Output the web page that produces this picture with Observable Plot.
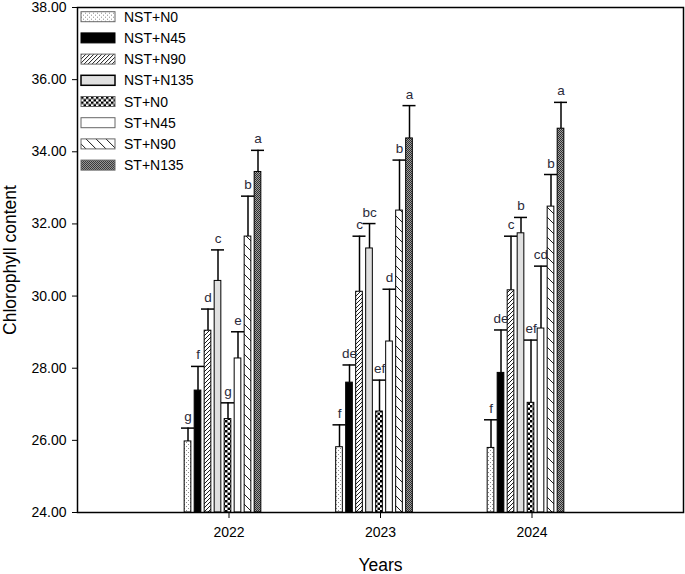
<!DOCTYPE html>
<html><head><meta charset="utf-8">
<script src="https://cdn.jsdelivr.net/npm/d3@7"></script>
<script src="https://cdn.jsdelivr.net/npm/@observablehq/plot@0.6"></script>
<style>
body{margin:0;background:#fff;font-family:"Liberation Sans",Arial,sans-serif}
#wrap{position:relative;width:685px;height:574px;overflow:hidden}
#wrap svg [aria-label="y-axis label"], #wrap svg [aria-label="x-axis label"]{font-size:17.5px}
</style></head><body><div id="wrap"></div>
<script>
// ---- data ----
const years = [2022, 2023, 2024];
const treatments = ["NST+N0","NST+N45","NST+N90","NST+N135","ST+N0","ST+N45","ST+N90","ST+N135"];
const yTicks = [24, 26, 28, 30, 32, 34, 36, 38];

const mean2022 = [25.97, 27.38, 29.04, 30.42, 26.59, 28.27, 31.65, 33.44];
const err2022  = [0.37, 0.67, 0.60, 0.86, 0.45, 0.74, 1.12, 0.60];
const letters2022 = ["g","f","d","c","g","e","b","a"];

const mean2023 = [25.81, 27.60, 30.12, 31.32, 26.80, 28.74, 32.37, 34.37];
const err2023  = [0.62, 0.49, 1.54, 0.69, 0.87, 1.45, 1.40, 0.91];
const letters2023 = ["f","de","c","bc","ef","d","b","a"];

const mean2024 = [25.79, 27.87, 30.16, 31.74, 27.04, 29.10, 32.48, 34.64];
const err2024  = [0.78, 1.19, 1.50, 0.44, 1.74, 1.73, 0.89, 0.73];
const letters2024 = ["f","de","c","b","ef","cd","b","a"];

const means = [mean2022, mean2023, mean2024];
const errs = [err2022, err2023, err2024];
const letters = [letters2022, letters2023, letters2024];

// ---- layout helpers ----
const step = 0.066, barW = 0.044, capHalf = 0.043;
const patternIds = ["p0","p1","p2","p3","p4","p5","p6","p7"];
const fills = patternIds.map(id => `url(#${id})`);

const rows = [];
years.forEach((yr, k) => treatments.forEach((t, i) => rows.push({
  year: yr, treatment: t, i, mean: means[k][i], err: errs[k][i], letter: letters[k][i],
  xc: yr + (i - 4.1) * step
})));

const wrap = document.getElementById("wrap");

// ---- patterns ----
const defsSvg = d3.select(wrap).append("svg").attr("width", 0).attr("height", 0)
  .style("position", "absolute").style("left", 0).style("top", 0);
const defs = defsSvg.append("defs");
function pat(id, w, h, draw) {
  const p = defs.append("pattern").attr("id", id).attr("patternUnits", "userSpaceOnUse")
    .attr("width", w).attr("height", h);
  draw(p, w, h);
}
pat("p0", 4, 4, p => {
  p.append("rect").attr("width", 4).attr("height", 4).attr("fill", "#fff");
  p.append("rect").attr("x", 0).attr("y", 0).attr("width", 1).attr("height", 1).attr("fill", "#8a8a8a");
  p.append("rect").attr("x", 2).attr("y", 2).attr("width", 1).attr("height", 1).attr("fill", "#8a8a8a");
});
pat("p1", 4, 4, p => p.append("rect").attr("width", 4).attr("height", 4).attr("fill", "#000"));
pat("p2", 4, 4, p => {
  p.append("rect").attr("width", 4).attr("height", 4).attr("fill", "#fff");
  p.append("path").attr("d", "M0,4L4,0M-1,1L1,-1M3,5L5,3").attr("stroke", "#000").attr("stroke-width", 0.9);
});
pat("p3", 4, 4, p => p.append("rect").attr("width", 4).attr("height", 4).attr("fill", "#e0e0e0"));
pat("p4", 5, 5, p => {
  p.append("rect").attr("width", 5).attr("height", 5).attr("fill", "#fff");
  p.append("rect").attr("width", 2.5).attr("height", 2.5).attr("fill", "#000");
  p.append("rect").attr("x", 2.5).attr("y", 2.5).attr("width", 2.5).attr("height", 2.5).attr("fill", "#000");
});
pat("p5", 4, 4, p => p.append("rect").attr("width", 4).attr("height", 4).attr("fill", "#fff"));
pat("p6", 10, 10, p => {
  p.append("rect").attr("width", 10).attr("height", 10).attr("fill", "#fff");
  p.append("path").attr("d", "M0,0L10,10M-1,9L1,11M9,-1L11,1").attr("stroke", "#000").attr("stroke-width", 0.9);
});
pat("p7", 2, 2, p => {
  p.append("rect").attr("width", 2).attr("height", 2).attr("fill", "#a0a0a0");
  p.append("rect").attr("width", 1).attr("height", 1).attr("fill", "#2e2e2e");
  p.append("rect").attr("x", 1).attr("y", 1).attr("width", 1).attr("height", 1).attr("fill", "#2e2e2e");
});

// ---- chart ----
const chart = Plot.plot({
  width: 685, height: 574,
  marginLeft: 77, marginRight: 2, marginTop: 7, marginBottom: 62,
  style: {fontFamily: "'Liberation Sans', Arial, sans-serif", fontSize: "14px", color: "#000", background: "#fff"},
  x: {domain: [2021, 2025], ticks: years, tickFormat: d => String(d), label: "Years",
      labelAnchor: "center", labelArrow: "none", tickSize: 6, tickPadding: 9, labelOffset: 58},
  y: {domain: [24, 38], ticks: yTicks, tickFormat: d => d.toFixed(2), label: "Chlorophyll content",
      labelAnchor: "center", labelArrow: "none", tickSize: 5, tickPadding: 6, labelOffset: 74},
  color: {type: "identity"},
  marks: [
    Plot.rectY(rows, {x1: d => d.xc - barW / 2, x2: d => d.xc + barW / 2, y1: 24, y2: "mean",
      fill: d => fills[d.i], stroke: "#000", strokeWidth: 1}),
    Plot.ruleX(rows, {x: "xc", y1: "mean", y2: d => d.mean + d.err, stroke: "#000", strokeWidth: 1.5}),
    Plot.ruleY(rows, {y: d => d.mean + d.err, x1: d => d.xc - capHalf, x2: d => d.xc + capHalf,
      stroke: "#000", strokeWidth: 1.5}),
    Plot.text(rows, {x: "xc", y: d => d.mean + d.err, text: "letter", lineAnchor: "bottom", dy: -7,
      fill: "#2a2a3a", fontSize: 13.5}),
    Plot.frame({stroke: "#000", strokeWidth: 1.5})
  ]
});
chart.style.position = "absolute";
chart.style.left = "0px";
chart.style.top = "0px";
wrap.appendChild(chart);

// ---- legend ----
const legend = d3.select(wrap).append("svg").attr("width", 200).attr("height", 180)
  .style("position", "absolute").style("left", "0px").style("top", "0px")
  .attr("font-family", "'Liberation Sans', Arial, sans-serif").attr("font-size", 14);
const item = legend.selectAll("g").data(treatments).join("g")
  .attr("transform", (d, i) => `translate(81,${16.7 + i * 21.2})`);
item.append("rect").attr("x", 0).attr("y", -5).attr("width", 34).attr("height", 10)
  .attr("fill", (d, i) => fills[i])
  .attr("stroke", (d, i) => (i === 1 || i === 3) ? "#000" : "#666")
  .attr("stroke-width", (d, i) => i === 3 ? 1.5 : 1);
item.append("text").attr("x", 43).attr("y", 5).text(d => d);
</script></body></html>
